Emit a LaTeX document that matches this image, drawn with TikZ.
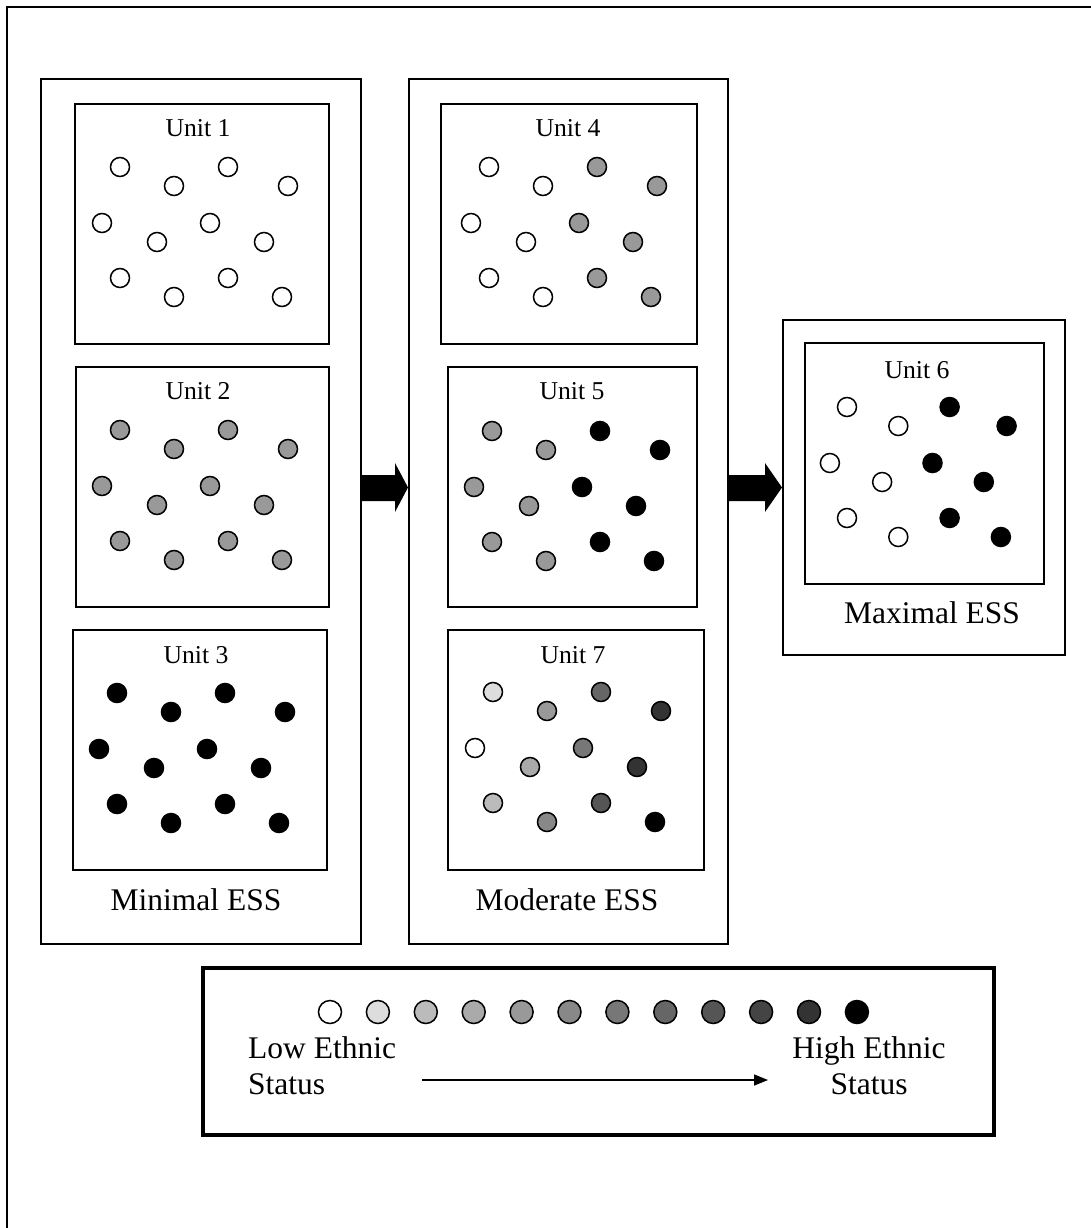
\documentclass[tikz,border=0pt]{standalone}
\usepackage{fontspec}
\setmainfont{Liberation Serif}
\usetikzlibrary{arrows.meta}
\definecolor{g1}{HTML}{DDDDDD}
\definecolor{g2}{HTML}{BBBBBB}
\definecolor{g3}{HTML}{AAAAAA}
\definecolor{g4}{HTML}{999999}
\definecolor{g5}{HTML}{888888}
\definecolor{g6}{HTML}{777777}
\definecolor{g7}{HTML}{666666}
\definecolor{g8}{HTML}{555555}
\definecolor{g9}{HTML}{444444}
\definecolor{g10}{HTML}{333333}
\newcommand\mydots[6]{%
  \foreach \dx/\dy [count=\i] in {0/0,108/0,54/19,168/19,-18/56,90/56,37/75,144/75,0/111,108/111,54/130,162/130}{%
    \ifodd\i \def\cc{#4}\else\def\cc{#5}\fi
    \node[dot, fill=\cc] (#1d\i) at (#2+#6*\dx,#3+\dy) {};
  }}
\begin{document}
\begin{tikzpicture}[x=1pt,y=-1pt,
  frame/.style={draw=black, line width=1.8pt, rectangle, inner sep=0pt, anchor=north west},
  dot/.style={circle, draw=black, line width=1.5pt, minimum size=19pt, inner sep=0pt},
  ldot/.style={circle, draw=black, line width=1.5pt, minimum size=23pt, inner sep=0pt},
  unitlbl/.style={font=\fontsize{25.7}{30}\selectfont, inner sep=0pt},
  biglbl/.style={font=\fontsize{31.5}{36}\selectfont, inner sep=0pt},
  blockarrow/.style={fill=black, draw=none}
]
\useasboundingbox (0,0) rectangle (1091,1228);
\draw[line width=2pt] (7,1228) -- (7,7) -- (1091,7);

% columns
\node[frame, minimum width=320, minimum height=865] (col1) at (40,78) {};
\node[frame, minimum width=319, minimum height=865] (col2) at (408,78) {};
\node[frame, minimum width=282, minimum height=335] (col3) at (782,319) {};

% unit boxes
\node[frame, minimum width=254, minimum height=240] (u1) at (74,103) {};
\node[frame, minimum width=253, minimum height=240] (u2) at (75,366) {};
\node[frame, minimum width=254, minimum height=240] (u3) at (72,629) {};
\node[frame, minimum width=256, minimum height=240] (u4) at (440,103) {};
\node[frame, minimum width=249, minimum height=240] (u5) at (447,366) {};
\node[frame, minimum width=256, minimum height=240] (u7) at (447,629) {};
\node[frame, minimum width=239, minimum height=241] (u6) at (804,342) {};

% titles
\node[unitlbl] (t1) at (198,128) {Unit 1};
\node[unitlbl] (t2) at (198,391) {Unit 2};
\node[unitlbl] (t3) at (196,655) {Unit 3};
\node[unitlbl] (t4) at (568,128) {Unit 4};
\node[unitlbl] (t5) at (572,391) {Unit 5};
\node[unitlbl] (t7) at (573,655) {Unit 7};
\node[unitlbl] (t6) at (917,370) {Unit 6};

\node[biglbl] (l1) at (196,900) {Minimal ESS};
\node[biglbl] (l2) at (567,900) {Moderate ESS};
\node[biglbl] (l3) at (932,613) {Maximal ESS};

% dots
\mydots{u1}{120}{167}{white}{white}{1}
\mydots{u2}{120}{430}{g4}{g4}{1}
\mydots{u3}{117}{693}{black}{black}{1}
\mydots{u4}{489}{167}{white}{g4}{1}
\mydots{u5}{492}{431}{g4}{black}{1}
\mydots{u6}{847}{407}{white}{black}{0.95}
\foreach \dx/\dy/\cc [count=\i] in {0/0/g1,108/0/g7,54/19/g4,168/19/g10,-18/56/white,90/56/g6,37/75/g3,144/75/g10,0/111/g2,108/111/g8,54/130/g5,162/130/black}{%
  \node[dot, fill=\cc] (u7d\i) at (493+\dx,692+\dy) {};
}

% block arrows
\fill[blockarrow] (col1.east |- 0,475) -- (395,475) -- (395,463) -- (col2.west |- 0,487.5) -- (395,512) -- (395,501) -- (col1.east |- 0,501) -- cycle;
\fill[blockarrow] (col2.east |- 0,475) -- (765,475) -- (765,463) -- (col3.west |- 0,487.5) -- (765,512) -- (765,501) -- (col2.east |- 0,501) -- cycle;

% legend
\node[draw=black, line width=3.5pt, rectangle, inner sep=0pt, anchor=north west, minimum width=791, minimum height=167] (leg) at (201,966) {};
\foreach \cc [count=\i] in {white,g1,g2,g3,g4,g5,g6,g7,g8,g9,g10,black}{%
  \node[ldot, fill=\cc] (ld\i) at (330+47.9*\i-47.9,1012) {};
}
\node[biglbl, anchor=west, align=left] (low) at (248,1066) {Low Ethnic\\Status};
\node[biglbl, anchor=center, align=center] (high) at (869,1066) {High Ethnic\\Status};
\coordinate (la) at (422,1080);
\coordinate (lb) at (768,1080);
\draw[line width=1.5pt, -{Triangle[length=14pt,width=11pt]}] (la) -- (lb);
\end{tikzpicture}
\end{document}
